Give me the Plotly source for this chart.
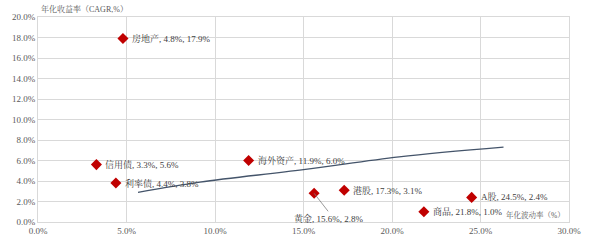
import plotly.graph_objects as go

names = ["房地产", "信用债", "利率债", "海外资产", "黄金", "港股", "A股", "商品"]
vol = [4.8, 3.3, 4.4, 11.9, 15.6, 17.3, 24.5, 21.8]
ret = [17.9, 5.6, 3.8, 6.0, 2.8, 3.1, 2.4, 1.0]

trend_x = [5.65, 9.15, 15.0, 20.4, 26.3]
trend_y = [2.9, 3.9, 5.1, 6.35, 7.3]

x_ticks = [0, 5, 10, 15, 20, 25, 30]
y_ticks = [0, 2, 4, 6, 8, 10, 12, 14, 16, 18, 20]

font_fam = "Liberation Serif, Noto Serif CJK SC, Noto Sans CJK SC, serif"

fig = go.Figure()
fig.add_trace(go.Scatter(x=trend_x, y=trend_y, mode="lines", line=dict(color="#44546A", width=1.3, shape="spline"),
                         hoverinfo="skip"))
fig.add_trace(go.Scatter(x=vol, y=ret, mode="markers",
                         marker=dict(symbol="diamond", size=8.5, color="#C00000"), hoverinfo="skip"))

for n, xv, yv in zip(names, vol, ret):
    txt = f"{n}, {xv:.1f}%, {yv:.1f}%"
    if n == "黄金":
        fig.add_annotation(x=xv, y=yv, text=txt, showarrow=True, arrowhead=0, arrowwidth=0.8,
                           arrowcolor="#808080", ax=14, ay=18, xanchor="center", yanchor="top",
                           font=dict(size=9, color="#404040", family=font_fam))
    else:
        fig.add_annotation(x=xv, y=yv, text=txt, showarrow=False, xanchor="left", yanchor="middle",
                           xshift=7, font=dict(size=9, color="#404040", family=font_fam))

fig.add_annotation(x=0, y=1.0, xref="paper", yref="paper", text="年化收益率（CAGR,%）", showarrow=False,
                   xanchor="left", yanchor="bottom", xshift=1, yshift=1,
                   font=dict(size=8, color="#595959", family=font_fam))
fig.add_annotation(x=1.0, y=0, xref="paper", yref="paper", text="年化波动率（%）", showarrow=False,
                   xanchor="right", yanchor="bottom", xshift=-2, yshift=0,
                   font=dict(size=7.5, color="#595959", family=font_fam))

fig.update_xaxes(range=[0, 30], tickvals=x_ticks, ticktext=[f"{v:.1f}%" for v in x_ticks],
                 showgrid=True, gridcolor="#D9D9D9", gridwidth=1, zeroline=False,
                 showline=True, linecolor="#D9D9D9", mirror=True,
                 tickfont=dict(size=9, color="#595959", family=font_fam), ticks="")
fig.update_yaxes(range=[0, 20], tickvals=y_ticks, ticktext=[f"{v:.1f}%" for v in y_ticks],
                 showgrid=True, gridcolor="#D9D9D9", gridwidth=1, zeroline=False,
                 showline=True, linecolor="#D9D9D9", mirror=True,
                 tickfont=dict(size=9, color="#595959", family=font_fam), ticks="")

fig.update_layout(width=600, height=248, margin=dict(l=38, r=31, t=17, b=20),
                  paper_bgcolor="white", plot_bgcolor="white", showlegend=False)
fig.write_html("out.html")
